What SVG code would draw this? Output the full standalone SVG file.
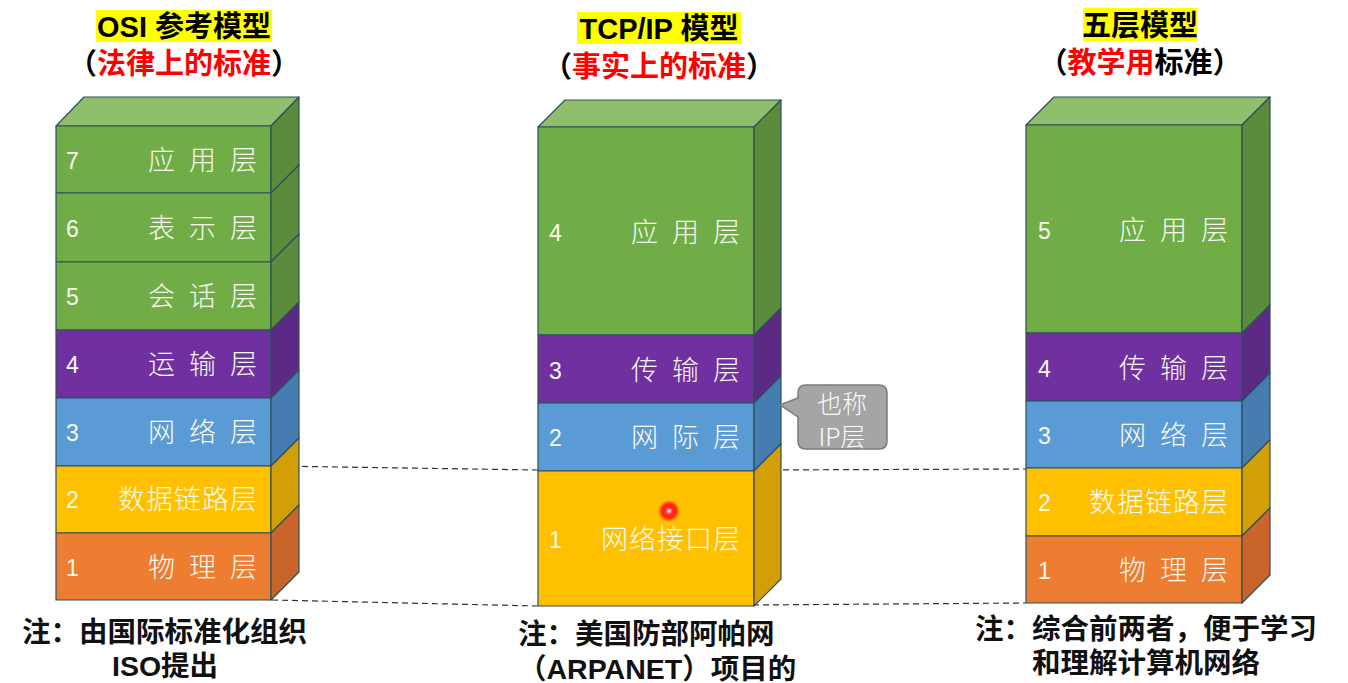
<svg xmlns="http://www.w3.org/2000/svg" width="1348" height="683" viewBox="0 0 1348 683">
<defs>
<radialGradient id="dot" cx="0.5" cy="0.5" r="0.5">
<stop offset="0" stop-color="#ffffff"/>
<stop offset="0.3" stop-color="#ff3030"/>
<stop offset="0.65" stop-color="#ff0000" stop-opacity="0.8"/>
<stop offset="1" stop-color="#ff0000" stop-opacity="0"/>
</radialGradient>
</defs>
<style>
.f{stroke:#2d4f5c;stroke-width:1.2;stroke-linejoin:round}
.g{fill:#70ad47}.gs{fill:#5a8c3b}.gt{fill:#8fbe6d}
.p{fill:#7030a0}.ps{fill:#5c2a85}
.b{fill:#5b9bd5}.bs{fill:#467db0}
.y{fill:#ffc000}.ys{fill:#d29f06}
.o{fill:#ed7d31}.os{fill:#c9652a}
.n{font-family:"Liberation Sans","Noto Sans CJK SC",sans-serif;font-size:23px;fill:#fafaf0}
.l{font-family:"Noto Sans CJK SC","Noto Sans",sans-serif;font-size:27px;fill:#fafaf0;font-weight:300;text-anchor:end;letter-spacing:4px}
.l5{font-family:"Noto Sans CJK SC","Noto Sans",sans-serif;font-size:27px;fill:#fafaf0;font-weight:300;text-anchor:end;letter-spacing:1px}
.t{font-family:"Liberation Sans","Noto Sans CJK SC",sans-serif;font-size:29px;font-weight:bold;fill:#000;text-anchor:middle}
.r{fill:#ff0000}
.note{font-family:"Liberation Sans","Noto Sans CJK SC",sans-serif;font-size:28.5px;font-weight:bold;fill:#111}
.d{stroke:#333;stroke-width:1.2;stroke-dasharray:6 4;fill:none}
.c{font-family:"Noto Sans CJK SC","Noto Sans",sans-serif;font-size:25px;fill:#fafafa;text-anchor:middle;font-weight:300}
</style>

<g id="connectors">
<line class="d" x1="272" y1="466" x2="538" y2="470"/>
<line class="d" x1="753" y1="470" x2="1026" y2="469"/>
<line class="d" x1="272" y1="600" x2="538" y2="606"/>
<line class="d" x1="753" y1="605" x2="1026" y2="603"/>
</g>

<g id="titles">
<rect x="96" y="10" width="176" height="32" fill="#ffff00"/>
<text class="t" x="184" y="37">OSI 参考模型</text>
<text class="t" x="184" y="74">（<tspan class="r">法律上的标准</tspan>）</text>
<rect x="577" y="12" width="164" height="32" fill="#ffff00"/>
<text class="t" x="659" y="39">TCP/IP 模型</text>
<text class="t" x="659" y="77">（<tspan class="r">事实上的标准</tspan>）</text>
<rect x="1083" y="8" width="114" height="33" fill="#ffff00"/>
<text class="t" x="1140" y="36">五层模型</text>
<text class="t" x="1140" y="73">（<tspan class="r">教学用</tspan>标准）</text>
</g>

<g id="osi">
<polygon class="f gt" points="56,126 84,97 299,97 271,126"/>
<g id="osi7"><rect class="f g" x="56" y="126" width="215" height="67"/><polygon class="f gs" points="271,126 299,97 299,165 271,193"/><text class="n" x="66" y="169">7</text><text class="l" x="261" y="170">应 用 层</text></g>
<g id="osi6"><rect class="f g" x="56" y="193" width="215" height="69"/><polygon class="f gs" points="271,193 299,165 299,234 271,262"/><text class="n" x="66" y="237">6</text><text class="l" x="261" y="238">表 示 层</text></g>
<g id="osi5"><rect class="f g" x="56" y="262" width="215" height="68"/><polygon class="f gs" points="271,262 299,234 299,302 271,330"/><text class="n" x="66" y="305">5</text><text class="l" x="261" y="306">会 话 层</text></g>
<g id="osi4"><rect class="f p" x="56" y="330" width="215" height="68"/><polygon class="f ps" points="271,330 299,302 299,370 271,398"/><text class="n" x="66" y="373">4</text><text class="l" x="261" y="374">运 输 层</text></g>
<g id="osi3"><rect class="f b" x="56" y="398" width="215" height="68"/><polygon class="f bs" points="271,398 299,370 299,438 271,466"/><text class="n" x="66" y="441">3</text><text class="l" x="261" y="442">网 络 层</text></g>
<g id="osi2"><rect class="f y" x="56" y="466" width="215" height="67"/><polygon class="f ys" points="271,466 299,438 299,505 271,533"/><text class="n" x="66" y="508">2</text><text class="l5" x="258" y="509">数据链路层</text></g>
<g id="osi1"><rect class="f o" x="56" y="533" width="215" height="67"/><polygon class="f os" points="271,533 299,505 299,572 271,600"/><text class="n" x="66" y="576">1</text><text class="l" x="261" y="577">物 理 层</text></g>
</g>

<g id="tcpip">
<polygon class="f gt" points="538,127 565,100 781,100 754,127"/>
<g id="tcp4"><rect class="f g" x="538" y="127" width="216" height="208"/><polygon class="f gs" points="754,127 781,100 781,308 754,335"/><text class="n" x="549" y="241">4</text><text class="l" x="744" y="242">应 用 层</text></g>
<g id="tcp3"><rect class="f p" x="538" y="335" width="216" height="68"/><polygon class="f ps" points="754,335 781,308 781,376 754,403"/><text class="n" x="549" y="379">3</text><text class="l" x="744" y="380">传 输 层</text></g>
<g id="tcp2"><rect class="f b" x="538" y="403" width="216" height="68"/><polygon class="f bs" points="754,403 781,376 781,444 754,471"/><text class="n" x="549" y="446">2</text><text class="l" x="744" y="447">网 际 层</text></g>
<g id="tcp1"><rect class="f y" x="538" y="471" width="216" height="135"/><polygon class="f ys" points="754,471 781,444 781,579 754,606"/><text class="n" x="549" y="548">1</text><text class="l5" x="741" y="549">网络接口层</text></g>
<circle cx="669" cy="511" r="11" fill="url(#dot)"/>
</g>

<g id="callout">
<path d="M806,385 H879 Q887,385 887,393 V441 Q887,449 879,449 H806 Q798,449 798,441 V417 L780,405 L798,398 V393 Q798,385 806,385 Z" fill="#a5a5a5" stroke="#7a7a7a" stroke-width="1.5"/>
<text class="c" x="842" y="413">也称</text>
<text class="c" x="842" y="446">IP层</text>
</g>

<g id="five">
<polygon class="f gt" points="1026,125 1054,97 1270,97 1242,125"/>
<g id="five5"><rect class="f g" x="1026" y="125" width="216" height="208"/><polygon class="f gs" points="1242,125 1270,97 1270,305 1242,333"/><text class="n" x="1038" y="239">5</text><text class="l" x="1232" y="240">应 用 层</text></g>
<g id="five4"><rect class="f p" x="1026" y="333" width="216" height="68"/><polygon class="f ps" points="1242,333 1270,305 1270,373 1242,401"/><text class="n" x="1038" y="377">4</text><text class="l" x="1232" y="378">传 输 层</text></g>
<g id="five3"><rect class="f b" x="1026" y="401" width="216" height="67"/><polygon class="f bs" points="1242,401 1270,373 1270,440 1242,468"/><text class="n" x="1038" y="444">3</text><text class="l" x="1232" y="445">网 络 层</text></g>
<g id="five2"><rect class="f y" x="1026" y="468" width="216" height="68"/><polygon class="f ys" points="1242,468 1270,440 1270,508 1242,536"/><text class="n" x="1038" y="511">2</text><text class="l5" x="1229" y="512">数据链路层</text></g>
<g id="five1"><rect class="f o" x="1026" y="536" width="216" height="67"/><polygon class="f os" points="1242,536 1270,508 1270,575 1242,603"/><text class="n" x="1038" y="579">1</text><text class="l" x="1232" y="580">物 理 层</text></g>
</g>

<g id="notes">
<text class="note" x="22" y="642">注：由国际标准化组织</text>
<text class="note" x="112" y="676">ISO提出</text>
<text class="note" x="518" y="644">注：美国防部阿帕网</text>
<text class="note" x="518" y="679">（ARPANET）项目的</text>
<text class="note" x="975" y="639">注：综合前两者，便于学习</text>
<text class="note" x="1032" y="673">和理解计算机网络</text>
</g>
</svg>
